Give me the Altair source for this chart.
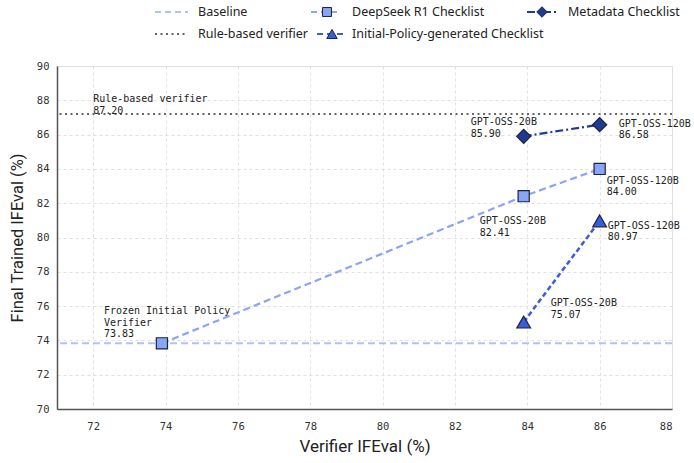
import altair as alt
import pandas as pd

# ---- data ----
baseline_y = 73.83
rule_y = 87.20

ds_x = [73.9, 83.9, 86.0]
ds_y = [73.83, 82.41, 84.00]
meta_x = [83.9, 86.0]
meta_y = [85.90, 86.58]
init_x = [83.9, 86.0]
init_y = [75.07, 80.97]

x_ticks = [72, 74, 76, 78, 80, 82, 84, 86, 88]
y_ticks = [70, 72, 74, 76, 78, 80, 82, 84, 86, 88, 90]

legend_names = ["Baseline", "DeepSeek R1 Checklist", "Metadata Checklist",
                "Rule-based verifier", "Initial-Policy-generated Checklist"]

C_BASE = "#b3c2f0"
C_DS = "#8aa5f5"
C_META = "#1f3a93"
C_INIT = "#3a5ed8"
C_RULE = "#555555"
EDGE = "#1c2340"

W, H = 615, 343
MONO = "DejaVu Sans Mono"
SANS = "Noto Sans"
TITLE_FONT = "Roboto"

xs = alt.Scale(domain=[71, 88], nice=False, zero=False)
ys = alt.Scale(domain=[70, 90], nice=False, zero=False)

one = pd.DataFrame({"a": [0]})

common_axis = dict(grid=True, gridDash=[3, 3], gridColor="#e0e0e0", ticks=False,
                   labelFont=MONO, labelFontSize=10.5, labelColor="#333", labelOverlap=False,
                   domainColor="#555", domainWidth=1.5, titleFont=TITLE_FONT,
                   titleFontWeight="normal", titleColor="#222")
X_AXIS = alt.Axis(values=x_ticks, labelPadding=12, titleFontSize=17, titlePadding=7, **common_axis)
Y_AXIS = alt.Axis(values=y_ticks, labelPadding=8, titleFontSize=16.5, titlePadding=11, **common_axis)
X_TITLE = "Verifier IFEval (%)"
Y_TITLE = "Final Trained IFEval (%)"

def X():
    return alt.X("x:Q", scale=xs, axis=X_AXIS, title=X_TITLE)

def Y():
    return alt.Y("y:Q", scale=ys, axis=Y_AXIS, title=Y_TITLE)

def xy():
    return dict(x=X(), y=Y())

axes = alt.Chart(pd.DataFrame({"x": [71], "y": [70]})).mark_point(opacity=0).encode(**xy())

base_rule = alt.Chart(pd.DataFrame({"y": [baseline_y]})).mark_rule(
    color=C_BASE, strokeWidth=2, strokeDash=[7, 4]).encode(y=Y())
rule_rule = alt.Chart(pd.DataFrame({"y": [rule_y]})).mark_rule(
    color="#666666", strokeWidth=2, strokeDash=[2, 3.5]).encode(y=Y())

ds_df = pd.DataFrame({"x": ds_x, "y": ds_y})
meta_df = pd.DataFrame({"x": meta_x, "y": meta_y})
init_df = pd.DataFrame({"x": init_x, "y": init_y})

ds_line = alt.Chart(ds_df).mark_line(color=C_DS, strokeWidth=2.2, strokeDash=[7, 4]).encode(**xy())
meta_line = alt.Chart(meta_df).mark_line(color=C_META, strokeWidth=2.2, strokeDash=[8, 3, 2, 3]).encode(**xy())
init_line = alt.Chart(init_df).mark_line(color=C_INIT, strokeWidth=2.5, strokeDash=[5, 3]).encode(**xy())

ds_pts = alt.Chart(ds_df).mark_point(shape="square", size=125, filled=True, fill=C_DS, stroke=EDGE,
                                     strokeWidth=1.2, opacity=1).encode(**xy())
meta_pts = alt.Chart(meta_df).mark_point(shape="diamond", size=200, filled=True, fill=C_META, stroke=EDGE,
                                         strokeWidth=1.2, opacity=1).encode(**xy())
init_pts = alt.Chart(init_df).mark_point(shape="triangle-up", size=190, filled=True, fill=C_INIT, stroke=EDGE,
                                         strokeWidth=1.2, opacity=1).encode(**xy())

# ---- annotations (text offsets are styling) ----
annots = [
    (72.0, rule_y, "Rule-based verifier\n87.20", 0, -20),
    (ds_x[0], ds_y[0], "Frozen Initial Policy\nVerifier\n73.83", -58, -37),
    (ds_x[1], ds_y[1], "GPT-OSS-20B\n82.41", -44, 20),
    (ds_x[2], ds_y[2], "GPT-OSS-120B\n84.00", 7, 7),
    (meta_x[0], meta_y[0], "GPT-OSS-20B\n85.90", -53, -19),
    (meta_x[1], meta_y[1], "GPT-OSS-120B\n86.58", 19, -6),
    (init_x[0], init_y[0], "GPT-OSS-20B\n75.07", 27, -24),
    (init_x[1], init_y[1], "GPT-OSS-120B\n80.97", 8, 0),
]
ann_layers = []
for ax_, ay_, txt, dx, dy in annots:
    ann_layers.append(
        alt.Chart(pd.DataFrame({"x": [ax_], "y": [ay_], "t": [txt]})).mark_text(
            align="left", baseline="top", dx=dx, dy=dy, font=MONO, fontSize=10,
            color="#222", lineBreak="\n", lineHeight=11.5
        ).encode(x=X(), y=Y(), text="t:N")
    )

# ---- manual legend (above plot area) ----
def leg_line(x1, x2, yy, color, dash, width):
    return alt.Chart(one).mark_rule(color=color, strokeDash=dash, strokeWidth=width).encode(
        x=alt.value(x1), x2=alt.value(x2), y=alt.value(yy))

def leg_pt(xx, yy, shape, color, size):
    return alt.Chart(one).mark_point(shape=shape, size=size, filled=True, fill=color, stroke=EDGE,
                                     strokeWidth=1, opacity=1).encode(x=alt.value(xx), y=alt.value(yy))

def leg_txt(xx, yy, t):
    return alt.Chart(one).mark_text(text=t, align="left", baseline="middle", font=SANS,
                                    fontSize=12.5, color="#222").encode(x=alt.value(xx), y=alt.value(yy))

r1, r2 = -54, -32
legend = [
    leg_line(98, 131, r1, C_BASE, [6, 4], 2), leg_txt(141, r1, legend_names[0]),
    leg_line(98, 131, r2, "#666666", [2, 3.5], 2), leg_txt(141, r2, legend_names[3]),
    leg_line(254, 284, r1, C_DS, [6, 4], 2), leg_pt(270, r1, "square", C_DS, 80), leg_txt(295, r1, legend_names[1]),
    leg_line(260, 288, r2, C_INIT, [6, 4], 2.2), leg_pt(275, r2, "triangle-up", C_INIT, 110), leg_txt(295, r2, legend_names[4]),
    leg_line(470, 502, r1, C_META, [8, 3, 2, 3], 2.2), leg_pt(485, r1, "diamond", C_META, 110), leg_txt(511, r1, legend_names[2]),
]

chart = alt.layer(
    axes, base_rule, rule_rule, ds_line, meta_line, init_line, ds_pts, meta_pts, init_pts,
    *ann_layers, *legend
).properties(
    width=W, height=H,
    autosize=alt.AutoSizeParams(type="none"),
    padding={"left": 57, "top": 66, "right": 22, "bottom": 54},
).configure_view(stroke=None).configure(background="white")

chart.save("out.html", embed_options={"renderer": "svg", "actions": False})
